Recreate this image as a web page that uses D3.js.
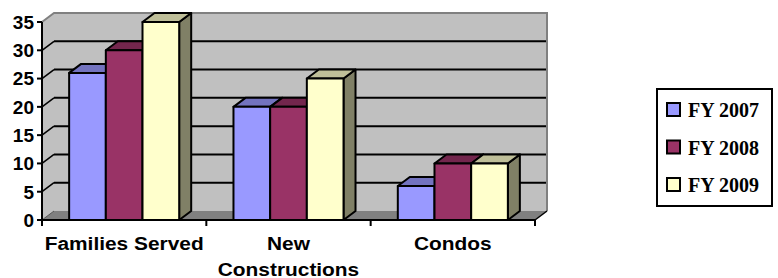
<!DOCTYPE html>
<html>
<head>
<meta charset="utf-8">
<script src="https://cdn.jsdelivr.net/npm/d3@7"></script>
<style>
  html, body { margin: 0; padding: 0; background: #fff; }
  svg { display: block; }
</style>
</head>
<body>
<svg id="chart" width="778" height="278"></svg>
<script>
// ---- data ----
const categories = ["Families Served", "New Constructions", "Condos"];
const categoryLines = [["Families Served"], ["New", "Constructions"], ["Condos"]];
const seriesNames = ["FY 2007", "FY 2008", "FY 2009"];
const fy2007 = [26, 20, 6];
const fy2008 = [30, 20, 10];
const fy2009 = [35, 25, 10];
const seriesValues = [fy2007, fy2008, fy2009];
const seriesColors = ["#9999FF", "#993366", "#FFFFCC"];
const yTicks = [0, 5, 10, 15, 20, 25, 30, 35];

// ---- layout ----
const svg = d3.select("#chart");
const x0 = 42, x1 = 535, yBottom = 220, yTop = 22;
const DX = 12, DY = -9; // 3D depth offset

const y = d3.scaleLinear().domain([0, 35]).range([yBottom, yTop]);
const xCat = d3.scaleBand().domain(categories).range([x0, x1]).padding(0);
const xSer = d3.scaleBand().domain(seriesNames).range([0, xCat.bandwidth()])
  .paddingInner(0).paddingOuter(0.74);

const shade = (c, k) => { const r = d3.rgb(c); return d3.rgb(r.r * k, r.g * k, r.b * k).formatHex(); };
const poly = pts => "M" + pts.map(p => p.join(",")).join("L") + "Z";

// back wall
svg.append("path")
  .attr("d", poly([[x0 + DX, y(35) + DY], [x1 + DX, y(35) + DY], [x1 + DX, y(0) + DY], [x0 + DX, y(0) + DY]]))
  .attr("fill", "#C0C0C0");
// side wall
svg.append("path")
  .attr("d", poly([[x0, y(35)], [x0 + DX, y(35) + DY], [x0 + DX, y(0) + DY], [x0, y(0)]]))
  .attr("fill", "#C0C0C0");
// floor
svg.append("path")
  .attr("d", poly([[x0, y(0)], [x0 + DX, y(0) + DY], [x1 + DX, y(0) + DY], [x1, y(0)]]))
  .attr("fill", "#808080");

// gridlines (back wall + side wall)
const grid = svg.append("g");
yTicks.filter(t => t > 0 && t < 35).forEach(t => {
  grid.append("line")
    .attr("x1", x0 + DX).attr("x2", x1 + DX)
    .attr("y1", y(t) + DY).attr("y2", y(t) + DY)
    .attr("stroke", "#000").attr("stroke-width", 2);
  grid.append("line")
    .attr("x1", x0).attr("x2", x0 + DX)
    .attr("y1", y(t)).attr("y2", y(t) + DY)
    .attr("stroke", "#000").attr("stroke-width", 1.5);
});
// wall borders
svg.append("path")
  .attr("d", `M${x0},${y(35)}L${x0 + DX},${y(35) + DY}L${x1 + DX},${y(35) + DY}L${x1 + DX},${y(0) + DY}`)
  .attr("fill", "none").attr("stroke", "#808080").attr("stroke-width", 2);
svg.append("path")
  .attr("d", `M${x0},${y(0)}L${x0 + DX},${y(0) + DY}`)
  .attr("fill", "none").attr("stroke", "#555").attr("stroke-width", 1);
svg.append("path")
  .attr("d", `M${x1},${y(0)}L${x1 + DX},${y(0) + DY}`)
  .attr("fill", "none").attr("stroke", "#000").attr("stroke-width", 1.5);

// bars
const bars = svg.append("g");
categories.forEach((c, ci) => {
  seriesNames.forEach((s, si) => {
    const v = seriesValues[si][ci];
    const bx = xCat(c) + xSer(s), bw = xSer.bandwidth();
    const top = y(v), bot = y(0);
    const col = seriesColors[si];
    const g = bars.append("g").attr("stroke", "#000").attr("stroke-width", 2).attr("stroke-linejoin", "round");
    // side face
    g.append("path").attr("d", poly([[bx + bw, bot], [bx + bw, top], [bx + bw + DX, top + DY], [bx + bw + DX, bot + DY]]))
      .attr("fill", shade(col, 0.5));
    // top face
    g.append("path").attr("d", poly([[bx, top], [bx + DX, top + DY], [bx + bw + DX, top + DY], [bx + bw, top]]))
      .attr("fill", shade(col, 0.75));
    // front face
    g.append("rect").attr("x", bx).attr("y", top).attr("width", bw).attr("height", bot - top)
      .attr("fill", col);
  });
});

// axes
svg.append("line").attr("x1", x0).attr("x2", x0).attr("y1", y(35)).attr("y2", y(0))
  .attr("stroke", "#000").attr("stroke-width", 2);
svg.append("line").attr("x1", x0 - 1).attr("x2", x1).attr("y1", y(0)).attr("y2", y(0))
  .attr("stroke", "#000").attr("stroke-width", 2);
const yAx = svg.append("g");
yTicks.forEach(t => {
  yAx.append("line").attr("x1", x0 - 5).attr("x2", x0).attr("y1", y(t)).attr("y2", y(t))
    .attr("stroke", "#000").attr("stroke-width", 2);
  yAx.append("text").attr("x", 34).attr("y", y(t)).attr("dy", "0.36em")
    .attr("text-anchor", "end")
    .attr("font-family", "'Liberation Sans', Arial, sans-serif")
    .attr("font-weight", "bold").attr("font-size", 19)
    .text(t);
});
const bounds = categories.map(c => xCat(c)).concat([x1]);
bounds.forEach(bx => {
  svg.append("line").attr("x1", bx).attr("x2", bx).attr("y1", y(0)).attr("y2", y(0) + 6)
    .attr("stroke", "#000").attr("stroke-width", 2);
});
categories.forEach((c, ci) => {
  const cx = xCat(c) + xCat.bandwidth() / 2;
  categoryLines[ci].forEach((line, li) => {
    svg.append("g").attr("transform", `translate(${cx},${250 + li * 25.5}) scale(1.16,1)`)
      .append("text").attr("text-anchor", "middle")
      .attr("font-family", "'Liberation Sans', Arial, sans-serif")
      .attr("font-weight", "bold").attr("font-size", 18)
      .text(line);
  });
});

// legend
const lg = svg.append("g");
lg.append("rect").attr("x", 657).attr("y", 89).attr("width", 115).attr("height", 117)
  .attr("fill", "#fff").attr("stroke", "#000").attr("stroke-width", 2);
seriesNames.forEach((s, i) => {
  const ly = 117 + i * 37.5;
  lg.append("rect").attr("x", 667).attr("y", ly - 14).attr("width", 13).attr("height", 13)
    .attr("fill", seriesColors[i]).attr("stroke", "#000").attr("stroke-width", 2);
  lg.append("text").attr("x", 688).attr("y", ly)
    .attr("font-family", "'Liberation Serif', 'Times New Roman', serif")
    .attr("font-weight", "bold").attr("font-size", 20)
    .text(s);
});
</script>
</body>
</html>
